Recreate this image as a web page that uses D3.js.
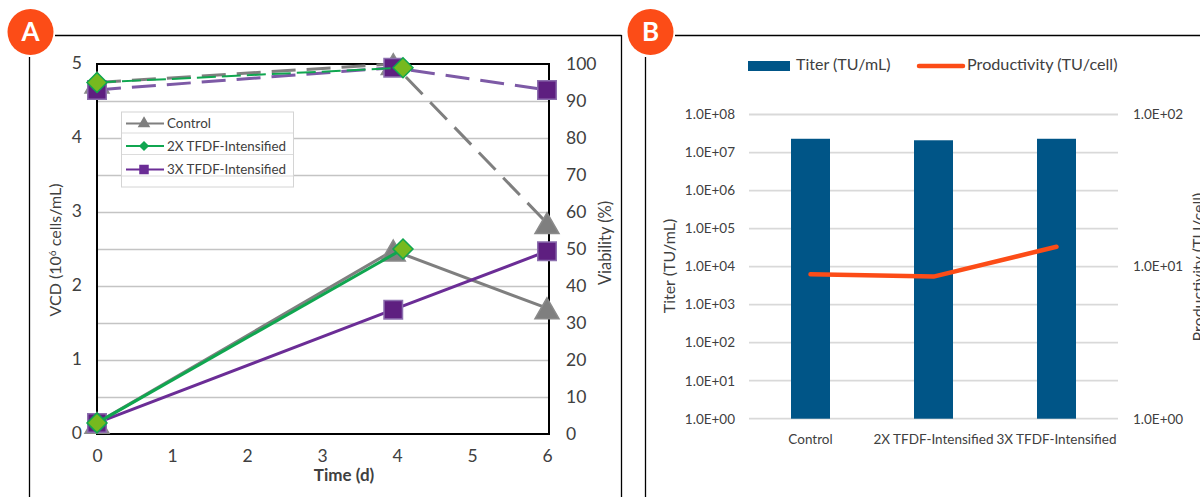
<!DOCTYPE html>
<html><head><meta charset="utf-8">
<script src="https://cdn.jsdelivr.net/npm/d3@7/dist/d3.min.js"></script>
<style>html,body{margin:0;padding:0;background:#fff;overflow:hidden}svg{display:block}
text{font-family:Lato,sans-serif;fill:#404040}</style></head><body>
<script>
const timeTicks=[0,1,2,3,4,5,6];
const vcdTicks=[0,1,2,3,4,5];
const viabTicks=[0,10,20,30,40,50,60,70,80,90,100];
const seriesNames=["Control","2X TFDF-Intensified","3X TFDF-Intensified"];
const controlT=[0,3.95,6], controlVCD=[0.15,2.48,1.70], controlViab=[95,100,57];
const x2T=[0,4.08], x2VCD=[0.15,2.5], x2Viab=[95,99];
const x3T=[0,3.95,6], x3VCD=[0.15,1.68,2.47], x3Viab=[93,99,93];
const categories=["Control","2X TFDF-Intensified","3X TFDF-Intensified"];
const titer=[2.3e7,2.1e7,2.3e7];
const productivity=[8.9,8.6,13.5];
const titerTicks=[1,10,100,1e3,1e4,1e5,1e6,1e7,1e8];
const prodTicks=[1,10,100];

const svg=d3.select("body").append("svg").attr("width",1200).attr("height",497);
const ink="#000";
function frame(left,right,top,gapX,label,cx){
  svg.append("line").attr("x1",gapX).attr("x2",right).attr("y1",35.5).attr("y2",35.5).attr("stroke",ink).attr("stroke-width",1.3);
  svg.append("line").attr("x1",left).attr("x2",left).attr("y1",57).attr("y2",497).attr("stroke",ink).attr("stroke-width",1.3);
  if(right<1200) svg.append("line").attr("x1",right).attr("x2",right).attr("y1",35).attr("y2",497).attr("stroke",ink).attr("stroke-width",1.3);
  svg.append("circle").attr("cx",cx).attr("cy",32).attr("r",23).attr("fill","#fc4c17");
  svg.append("text").attr("x",cx).attr("y",41).attr("text-anchor","middle").style("font-size","26px").style("font-weight",700).style("fill","#fff").text(label);
}
frame(29.5,621.5,35,55,"A",30.5);
frame(645.5,1200,35,675,"B",650.5);

/* Panel A */
const xA=d3.scaleLinear().domain([0,6]).range([97,547]);
const yL=d3.scaleLinear().domain([0,5]).range([434,64]);
const yR=d3.scaleLinear().domain([0,100]).range([434,64]);
const gA=svg.append("g");
gA.append("g").selectAll("line").data(viabTicks.slice(1,-1)).join("line")
  .attr("x1",xA(0)).attr("x2",549).attr("y1",d=>yR(d)+.5).attr("y2",d=>yR(d)+.5).attr("stroke","#c4c4c4").attr("stroke-width",1.4);
function clean(g){g.select(".domain").remove();g.selectAll(".tick line").remove();g.selectAll("text").style("font-size","17.5px").style("fill","#404040");}
gA.append("g").attr("transform","translate(97,0)").call(d3.axisLeft(yL).tickValues(vcdTicks).tickFormat(d3.format("d")).tickSize(0).tickPadding(15)).call(clean)
  .selectAll("text").attr("dy",0).attr("y",4);
gA.append("g").attr("transform","translate(549,0)").call(d3.axisRight(yR).tickValues(viabTicks).tickFormat(d3.format("d")).tickSize(0).tickPadding(17)).call(clean)
  .selectAll("text").attr("dy",0).attr("y",5);
gA.append("g").attr("transform","translate(0,434)").call(d3.axisBottom(xA).tickValues(timeTicks).tickFormat(d3.format("d")).tickSize(0).tickPadding(16)).call(clean);
gA.append("rect").attr("x",97).attr("y",64).attr("width",452).attr("height",370).attr("fill","none").attr("stroke","#000").attr("stroke-width",2);

const colors=["#7f7f7f","#10a650","#6b2d96"];
const sets=[{t:controlT,v:controlVCD,w:controlViab,c:colors[0],m:"tri"},
            {t:x3T,v:x3VCD,w:x3Viab,c:colors[2],m:"sq"},
            {t:x2T,v:x2VCD,w:x2Viab,c:colors[1],m:"dia"}];
function marker(sel,type,s){
  const path=d3.symbol().type(type==="tri"?d3.symbolTriangle:type==="sq"?d3.symbolSquare:d3.symbolDiamond2);
  const size=type==="tri"?0.433*s*s:type==="dia"?Math.pow(s/1.2525,2):s*s;
  const fill={tri:"#7f7f7f",sq:"#5e1f80",dia:"#76b91f"}[type];
  const stroke={tri:"#8a8a8a",sq:"#8c6fae",dia:"#10a650"}[type];
  sel.attr("d",path.size(size)()).attr("fill",fill).attr("stroke",stroke).attr("stroke-width",1.5);
}
const lineV=d3.line().x(d=>xA(d[0])).y(d=>yL(d[1]));
const lineW=d3.line().x(d=>xA(d[0])).y(d=>yR(d[1]));
sets.forEach(s=>{
  const pv=s.t.map((t,i)=>[t,s.v[i]]), pw=s.t.map((t,i)=>[t,s.w[i]]);
  const dashColor=s.m==="sq"?"#7d5aa6":s.c;
  gA.append("path").attr("d",lineW(pw)).attr("fill","none").attr("stroke",dashColor).attr("stroke-width",s.m==="dia"?2:3).attr("stroke-dasharray",s.m==="dia"?"19 6":"24 11");
  gA.append("path").attr("d",lineV(pv)).attr("fill","none").attr("stroke",s.c).attr("stroke-width",3);
  const sz={tri:24,sq:18.5,dia:20}[s.m];
  const off=s.m==="tri"?3.5:0;
  [[pw,yR],[pv,yL]].forEach(([p,y])=>{
    gA.append("g").selectAll("path").data(p).join("path")
      .attr("transform",d=>`translate(${xA(d[0])},${y(d[1])+off})`).call(marker,s.m,sz);
  });
});
/* legend */
const leg=gA.append("g");
leg.append("rect").attr("x",121.5).attr("y",112).attr("width",172).attr("height",75).attr("fill","#fff").attr("stroke","#d4d4d4").attr("stroke-width",1);
[133,154.5,176].forEach(y=>leg.append("line").attr("x1",122).attr("x2",293).attr("y1",y).attr("y2",y).attr("stroke","#dcdcdc").attr("stroke-width",1.2));
const legY=[123.5,146,169.5], legM=["tri","dia","sq"], legS=[10,8,8];
seriesNames.forEach((n,i)=>{
  const c=colors[i];
  leg.append("line").attr("x1",126).attr("x2",164).attr("y1",legY[i]).attr("y2",legY[i]).attr("stroke",c).attr("stroke-width",2.2);
  leg.append("path").attr("transform",`translate(144,${legY[i]})`).call(marker,legM[i],legS[i])
    .attr("fill",c).attr("stroke",c);
  leg.append("text").attr("x",167).attr("y",legY[i]+4.5).style("font-size","13.4px").text(n);
});
svg.append("text").attr("transform","translate(61,250) rotate(-90)").attr("text-anchor","middle").style("font-size","16px").html('VCD (10<tspan dy="-5" font-size="10">6</tspan><tspan dy="5"> cells/mL)</tspan>');
svg.append("text").attr("transform","translate(611,243) rotate(-90)").attr("text-anchor","middle").style("font-size","16.4px").text("Viability (%)");
svg.append("text").attr("x",344).attr("y",481).attr("text-anchor","middle").style("font-size","17px").style("font-weight",700).text("Time (d)");

/* Panel B */
const xB=d3.scaleBand().domain(categories).range([749,1118]).paddingInner(0).paddingOuter(0);
const yT=d3.scaleLog().domain([1,1e8]).range([418.7,114.5]);
const yP=d3.scaleLog().domain([1,100]).range([418.7,114.5]);
const gB=svg.append("g");
gB.append("g").selectAll("line").data(titerTicks).join("line").attr("x1",749).attr("x2",1118)
  .attr("y1",d=>yT(d)).attr("y2",d=>yT(d)).attr("stroke","#d9d9d9").attr("stroke-width",1.8);
const barW=39;
gB.append("g").selectAll("rect").data(categories).join("rect")
  .attr("x",d=>xB(d)+xB.bandwidth()/2-barW/2).attr("width",barW)
  .attr("y",(d,i)=>yT(titer[i])).attr("height",(d,i)=>yT(1)-yT(titer[i])).attr("fill","#005587");
gB.append("path").datum(productivity).attr("d",d3.line().x((d,i)=>xB(categories[i])+xB.bandwidth()/2).y(d=>yP(d)))
  .attr("fill","none").attr("stroke","#fc4c17").attr("stroke-width",4.5).attr("stroke-linecap","round").attr("stroke-linejoin","round");
const sci=d=>d3.format(".1e")(d).replace(/e([+-])(\d)$/,"E$10$2").replace(/e/,"E");
function cleanB(g){g.select(".domain").remove();g.selectAll(".tick line").remove();g.selectAll("text").style("font-size","13.5px").style("fill","#404040");}
gB.append("g").attr("transform","translate(749,0)").call(d3.axisLeft(yT).tickValues(titerTicks).tickFormat(sci).tickSize(0).tickPadding(14)).call(cleanB);
gB.append("g").attr("transform","translate(1118,0)").call(d3.axisRight(yP).tickValues(prodTicks).tickFormat(sci).tickSize(0).tickPadding(15)).call(cleanB);
gB.append("g").attr("transform","translate(0,434)").call(d3.axisBottom(xB).tickSize(0).tickPadding(0)).call(cleanB);
svg.append("text").attr("transform","translate(675,266) rotate(-90)").attr("text-anchor","middle").style("font-size","16px").text("Titer (TU/mL)");
svg.append("text").attr("transform","translate(1204,267) rotate(-90)").attr("text-anchor","middle").style("font-size","16px").text("Productivity (TU/cell)");
svg.append("rect").attr("x",748).attr("y",61).attr("width",42).attr("height",10).attr("fill","#005587");
svg.append("text").attr("x",796).attr("y",70).style("font-size","16px").text("Titer (TU/mL)");
svg.append("line").attr("x1",919).attr("x2",963).attr("y1",66).attr("y2",66).attr("stroke","#fc4c17").attr("stroke-width",4.5).attr("stroke-linecap","round");
svg.append("text").attr("x",967).attr("y",70).style("font-size","16.2px").text("Productivity (TU/cell)");
</script></body></html>
